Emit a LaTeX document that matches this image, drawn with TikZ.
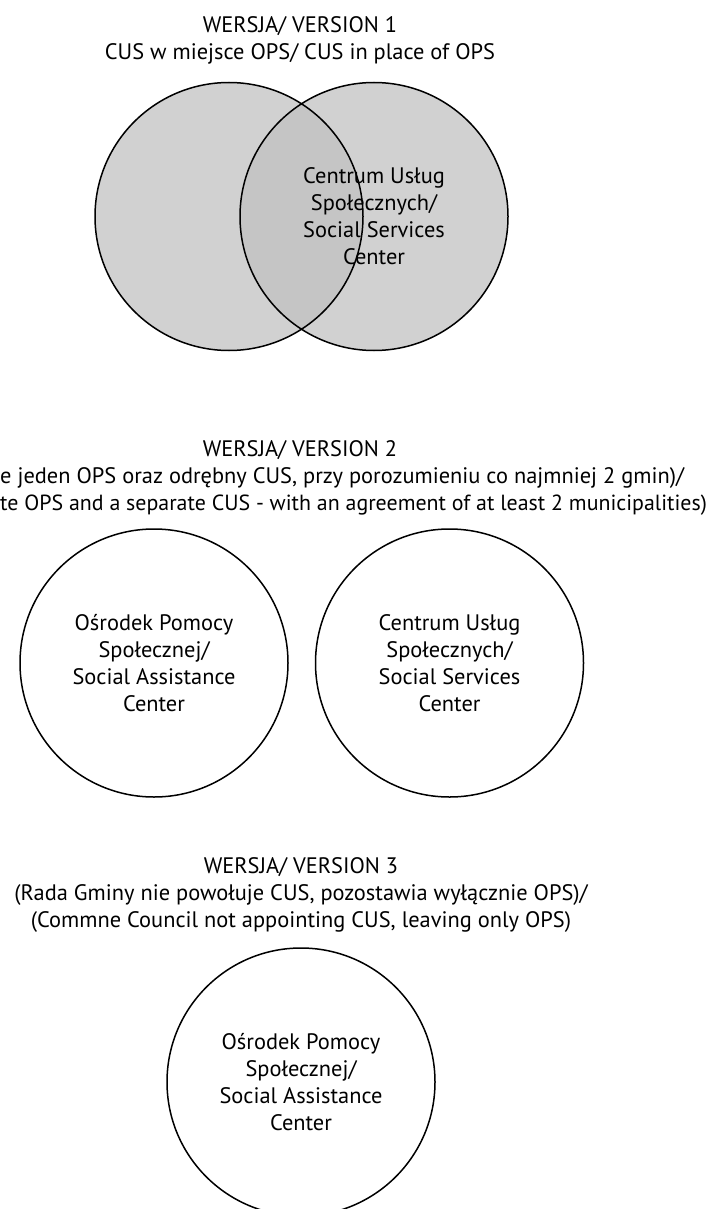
\documentclass[tikz,border=0pt]{standalone}
\usepackage{fontspec}
\setmainfont{PT Sans}
\usetikzlibrary{positioning}

\definecolor{vennlight}{RGB}{209,209,209}
\definecolor{venndark}{RGB}{197,197,197}

\tikzset{
  circ/.style={circle, minimum size=268pt, inner sep=0pt, line width=1.5pt},
  label text/.style={align=center, inner sep=0pt, font=\fontsize{22.4}{27}\selectfont},
}

\begin{document}
\begin{tikzpicture}[x=1pt,y=-1pt]
  \useasboundingbox (0,0) rectangle (713,1209);

  % Version 1: two overlapping circles
  \node[label text, anchor=base] (title1) at (300,60) {WERSJA/ VERSION 1\\CUS w miejsce OPS/ CUS in place of OPS};
  \node[circ, fill=vennlight] (ops1) at (229,216.5) {};
  \node[circ, fill=vennlight] (cus1) at (374,216.5) {};
  \begin{scope}
    % darker overlap
    \clip (ops1.center) circle[radius=134];
    \fill[venndark] (cus1.center) circle[radius=134];
  \end{scope}
  \draw[line width=1.5pt] (ops1.center) circle[radius=134] (cus1.center) circle[radius=134];
  \node[label text] (cus1text) at (cus1.center) {Centrum Usług\\Społecznych/\\Social Services\\Center};

  % Version 2: separate OPS and CUS
  \node[label text, anchor=base] (title2) at (300,456) {WERSJA/ VERSION 2};
  \node[label text, anchor=base west] (title2pl) at (0,483) {e jeden OPS oraz odrębny CUS, przy porozumieniu co najmniej 2 gmin)/};
  \node[label text, anchor=base west, font=\fontsize{21.9}{27}\selectfont] (title2en) at (0,510) {te OPS and a separate CUS - with an agreement of at least 2 municipalities)};
  \node[circ, draw, label text] (ops2) at (154,663) {Ośrodek Pomocy\\Społecznej/\\Social Assistance\\Center};
  \node[circ, draw, label text] (cus2) at (449.5,663) {Centrum Usług\\Społecznych/\\Social Services\\Center};

  % Version 3: only OPS
  \node[label text, anchor=base] (title3) at (301,927) {WERSJA/ VERSION 3\\(Rada Gminy nie powołuje CUS, pozostawia wyłącznie OPS)/\\(Commne Council not appointing CUS, leaving only OPS)};
  \node[circ, draw, label text] (ops3) at (301,1082) {Ośrodek Pomocy\\Społecznej/\\Social Assistance\\Center};
\end{tikzpicture}
\end{document}
